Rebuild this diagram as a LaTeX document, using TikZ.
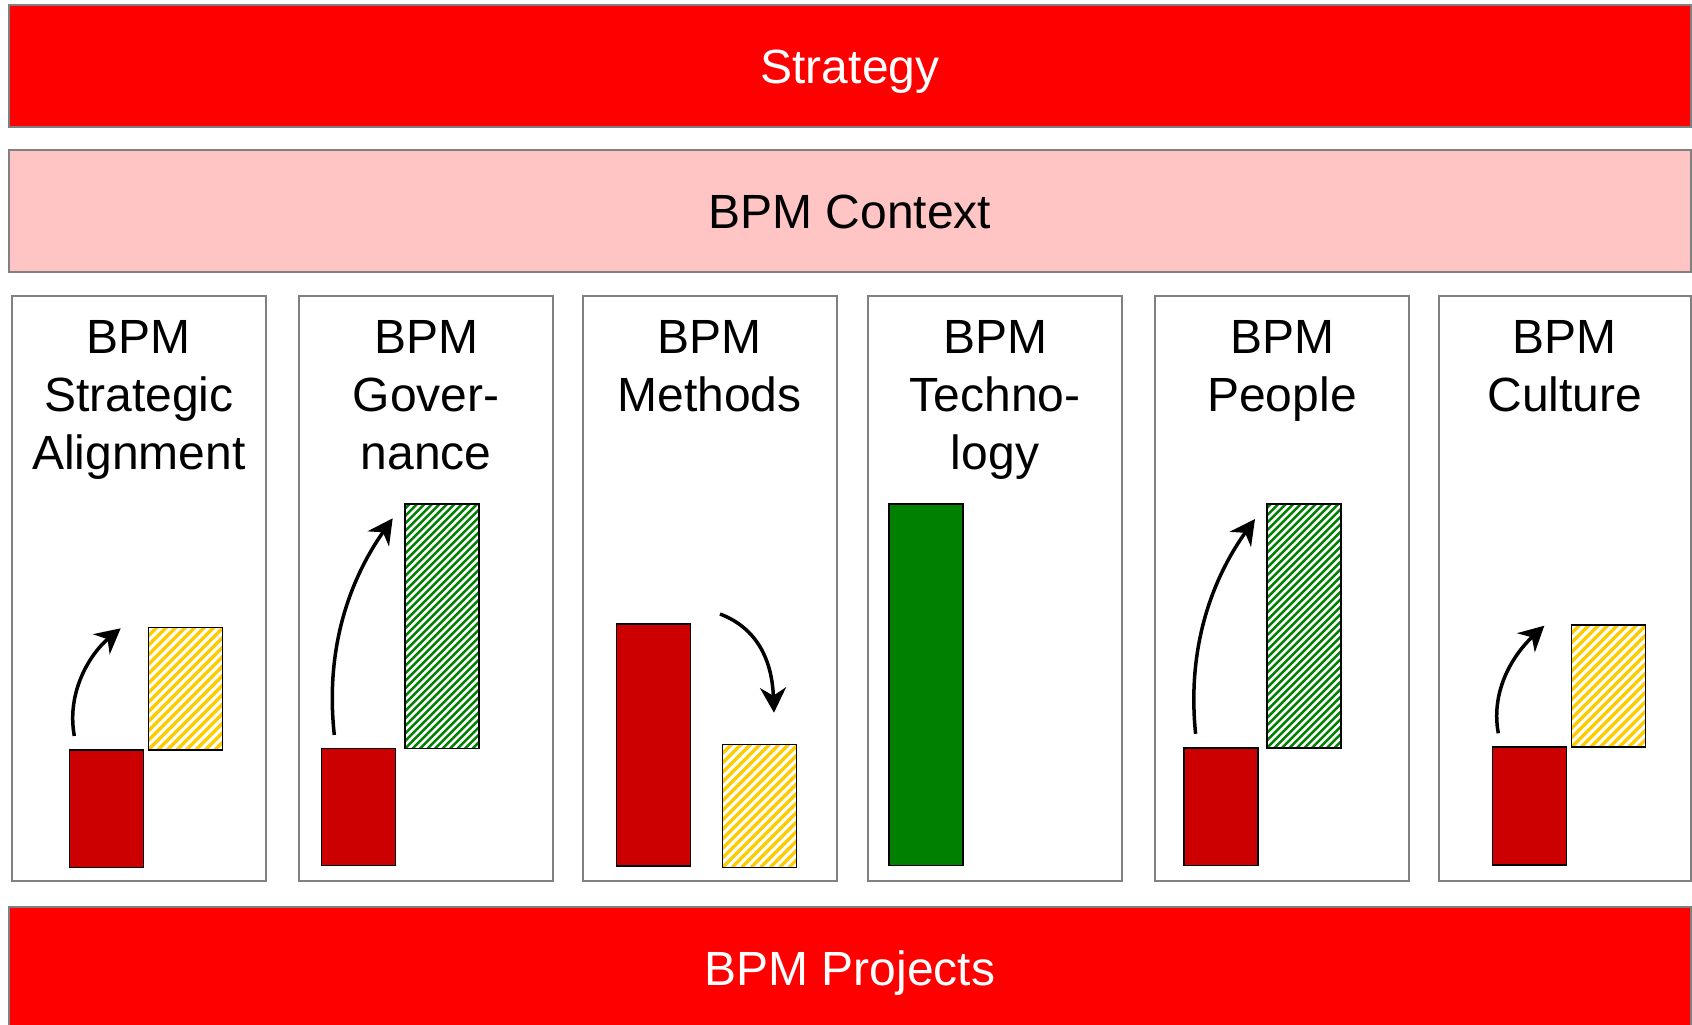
\documentclass[tikz,border=0pt]{standalone}
\usepackage{fontspec}
\setmainfont{Liberation Sans}
\usetikzlibrary{arrows.meta}
\definecolor{bandred}{HTML}{FF0000}
\definecolor{ctxpink}{HTML}{FFC4C4}
\definecolor{framegray}{HTML}{808080}
\definecolor{darkred}{HTML}{CC0000}
\definecolor{leafgreen}{HTML}{008000}
\definecolor{goldstripe}{HTML}{FFCC00}

\begin{document}
\begin{tikzpicture}[x=1pt,y=-1pt,
  band/.style={draw=framegray, line width=2pt, minimum width=1682pt,
    minimum height=122pt, inner sep=0, font=\fontsize{48}{56}\selectfont,
    text height=34pt, text depth=0pt},
  pillar/.style={draw=framegray, line width=2pt, fill=white,
    minimum height=585pt, inner sep=0},
  pillartitle/.style={font=\fontsize{48}{58.3}\selectfont, align=center,
    anchor=north, inner sep=0},
  bar/.style={draw=black, line width=1.5pt, minimum width=74pt, inner sep=0},
  asis/.style={bar, fill=darkred},
  solidgreen/.style={bar, fill=leafgreen},
  % diagonal stripes: #1 colour, #2 spacing along x, #3 stripe width
  stripes/.style n args={3}{bar, fill=white, path picture={
      \foreach \k in {-52,...,14}
        \draw[#1, line width=#3]
          ([xshift=\k*#2]path picture bounding box.south west) -- ++(420,-420);
    }},
  goldhatch/.style={stripes={goldstripe}{9.5pt}{3.3pt}},
  greenhatch/.style={stripes={leafgreen}{7.5pt}{2.5pt}},
  shift arrow/.style={line width=3.5pt,
    -{Stealth[length=25pt,width=26pt,inset=8pt]}}
]
\useasboundingbox (0,0) rectangle (1692,1025);

% horizontal bands
\node[band, fill=bandred, text=white] (strategy) at (850,66) {Strategy};
\node[band, fill=ctxpink] (context) at (850,211) {BPM Context};
\node[band, fill=bandred, text=white] (projects) at (850,968) {BPM Projects};

% six capability pillars
\node[pillar, minimum width=254pt] (p1) at (138.8,588.5) {};
\node[pillar, minimum width=254pt] (p2) at (426.3,588.5) {};
\node[pillar, minimum width=254pt] (p3) at (709.5,588.5) {};
\node[pillar, minimum width=254pt] (p4) at (995,588.5) {};
\node[pillar, minimum width=254pt] (p5) at (1282,588.5) {};
\node[pillar, minimum width=252pt] (p6) at (1564.8,588.5) {};

\node[pillartitle] (t1) at (138.8,320) {BPM\\Strategic\\Alignment};
\node[pillartitle] (t2) at (426.3,320) {BPM\\Gover-\\nance};
\node[pillartitle] (t3) at (709.5,320) {BPM\\Methods};
\node[pillartitle] (t4) at (995,320) {BPM\\Techno-\\logy};
\node[pillartitle] (t5) at (1282,320) {BPM\\People};
\node[pillartitle] (t6) at (1564.8,320) {BPM\\Culture};

% current vs. target levels
\node[asis, minimum height=117.3pt] (r1) at (106.3,808.7) {};
\node[goldhatch, minimum height=122.3pt] (g1) at (185.3,688.8) {};

\node[asis, minimum height=116.8pt] (r2) at (358.7,807.1) {};
\node[greenhatch, minimum height=244.7pt] (g2) at (442,626.3) {};

\node[asis, minimum height=242pt] (r3) at (653.7,745) {};
\node[goldhatch, minimum height=123pt] (g3) at (759.7,805.8) {};

\node[solidgreen, minimum height=361.5pt] (g4) at (926,684.8) {};

\node[asis, minimum height=117.5pt] (r5) at (1220.8,806.8) {};
\node[greenhatch, minimum height=244pt] (g5) at (1303.9,626) {};

\node[asis, minimum height=118pt] (r6) at (1529.7,806) {};
\node[goldhatch, minimum height=122pt] (g6) at (1608.7,686) {};

% change arrows
\coordinate (a1s) at (74.3,736);    \coordinate (a1e) at (120.7,628.3);
\coordinate (a2s) at (334.3,735);   \coordinate (a2e) at (392.7,518.3);
\coordinate (a3s) at (720,614);     \coordinate (a3e) at (774,712.7);
\coordinate (a5s) at (1195.6,733.8);\coordinate (a5e) at (1255,519);
\coordinate (a6s) at (1498.3,733.3);\coordinate (a6e) at (1544.3,625.7);

\draw[shift arrow] (a1s) .. controls (66,690) and (92,652) .. (a1e);
\draw[shift arrow] (a2s) .. controls (324,640) and (355,572) .. (a2e);
\draw[shift arrow] (a3s) .. controls (757,628) and (772,660) .. (a3e);
\draw[shift arrow] (a5s) .. controls (1186,640) and (1217,572) .. (a5e);
\draw[shift arrow] (a6s) .. controls (1490,688) and (1516,652) .. (a6e);
\end{tikzpicture}
\end{document}
